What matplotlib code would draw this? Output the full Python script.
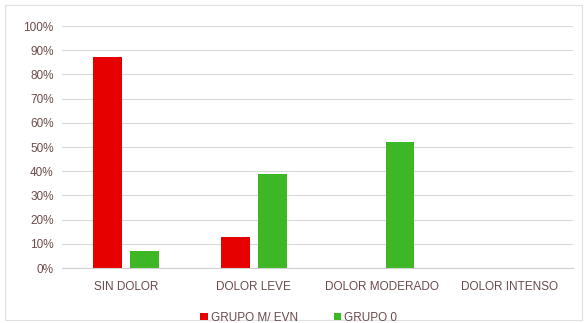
import numpy as np
import matplotlib
matplotlib.use('Agg')
import matplotlib.pyplot as plt
from matplotlib.patches import Rectangle
from matplotlib.ticker import PercentFormatter

categories = ['SIN DOLOR', 'DOLOR LEVE', 'DOLOR MODERADO', 'DOLOR INTENSO']
grupo_m = [0.87, 0.13, 0.0, 0.0]
grupo_0 = [0.07, 0.39, 0.52, 0.0]
series_names = ['GRUPO M/ EVN', 'GRUPO 0']

plt.rcParams['font.family'] = ['Liberation Sans', 'DejaVu Sans']

fig = plt.figure(figsize=(5.86, 3.23), dpi=100)
ax = fig.add_axes([0.106, 0.170, 0.872, 0.7495])

x = np.arange(len(categories))
w = 0.225
ax.bar(x - 0.145, grupo_m, w, color='#E60000', label=series_names[0])
ax.bar(x + 0.145, grupo_0, w, color='#3DB824', label=series_names[1])

ax.set_xlim(-0.5, len(categories) - 0.5)
ax.set_ylim(0, 1)
ax.set_yticks(np.arange(0, 1.01, 0.1))
ax.yaxis.set_major_formatter(PercentFormatter(1.0, decimals=0))
ax.set_xticks(x)
ax.set_xticklabels(categories)
ax.grid(axis='y', color='#D9D9D9', linewidth=0.8)
ax.set_axisbelow(True)
for s in ['top', 'right', 'left']:
    ax.spines[s].set_visible(False)
ax.spines['bottom'].set_color('#D0D0D0')
ax.tick_params(length=0, labelsize=8.5, colors='#6B4B4B', pad=6)
ax.tick_params(axis='x', pad=9)

fig.legend(loc='lower center', bbox_to_anchor=(0.51, -0.035), ncol=2, frameon=False,
           fontsize=8.5, handlelength=0.6, handleheight=0.6, handletextpad=0.3,
           columnspacing=3.0, labelcolor='#6B4B4B')

fig.patches.append(Rectangle((0.008, 0.01), 0.985, 0.975, transform=fig.transFigure,
                             fill=False, edgecolor='#E0E0E0', linewidth=0.8))

fig.savefig('out.png', dpi=100)
